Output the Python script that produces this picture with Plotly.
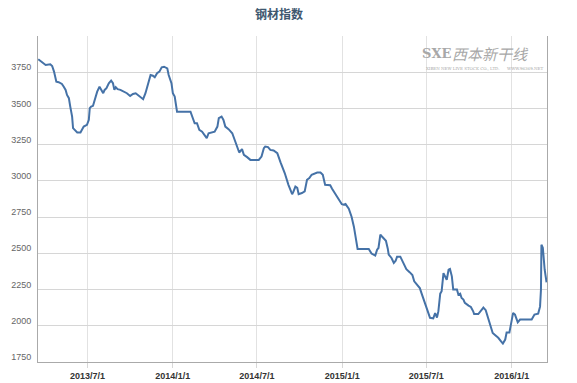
import plotly.graph_objects as go

title_text = "钢材指数"

dates = [
    "2013-03-17", "2013-03-23", "2013-03-29", "2013-04-02", "2013-04-12", "2013-04-16",
    "2013-04-20", "2013-04-22", "2013-04-25", "2013-04-30", "2013-05-07", "2013-05-11",
    "2013-05-15", "2013-05-18", "2013-05-22", "2013-05-25", "2013-05-29", "2013-05-31",
    "2013-06-05", "2013-06-09", "2013-06-16", "2013-06-19", "2013-06-23", "2013-06-30",
    "2013-07-04", "2013-07-06", "2013-07-09", "2013-07-13", "2013-07-18", "2013-07-22",
    "2013-07-27", "2013-07-30", "2013-08-04", "2013-08-07", "2013-08-11", "2013-08-16",
    "2013-08-21", "2013-08-25", "2013-08-28", "2013-08-31", "2013-09-04", "2013-09-10",
    "2013-09-17", "2013-09-24", "2013-10-01", "2013-10-07", "2013-10-13", "2013-10-20",
    "2013-10-29", "2013-11-03", "2013-11-09", "2013-11-14", "2013-11-19", "2013-11-23",
    "2013-11-28", "2013-12-03", "2013-12-08", "2013-12-13", "2013-12-20", "2013-12-23",
    "2013-12-29", "2014-01-01", "2014-01-05", "2014-01-10", "2014-02-08", "2014-02-13",
    "2014-02-17", "2014-02-22", "2014-02-27", "2014-03-05", "2014-03-10", "2014-03-15",
    "2014-03-19", "2014-03-25", "2014-04-01", "2014-04-07", "2014-04-10", "2014-04-16",
    "2014-04-20", "2014-04-24", "2014-05-01", "2014-05-09", "2014-05-14", "2014-05-20",
    "2014-05-24", "2014-05-30", "2014-06-03", "2014-06-10", "2014-06-17", "2014-07-05",
    "2014-07-11", "2014-07-16", "2014-07-19", "2014-07-25", "2014-07-30", "2014-08-06",
    "2014-08-14", "2014-08-21", "2014-08-30", "2014-09-07", "2014-09-15", "2014-09-18",
    "2014-09-22", "2014-09-26", "2014-09-29", "2014-10-06", "2014-10-12", "2014-10-17",
    "2014-10-22", "2014-10-27", "2014-10-31", "2014-11-08", "2014-11-15", "2014-11-20",
    "2014-11-25", "2014-12-06", "2014-12-10", "2014-12-17", "2014-12-24", "2014-12-31",
    "2015-01-04", "2015-01-08", "2015-01-15", "2015-01-21", "2015-01-26", "2015-01-30",
    "2015-02-03", "2015-02-27", "2015-03-05", "2015-03-13", "2015-03-17", "2015-03-20",
    "2015-03-24", "2015-03-27", "2015-04-02", "2015-04-05", "2015-04-09", "2015-04-11",
    "2015-04-17", "2015-04-22", "2015-04-26", "2015-04-29", "2015-05-06", "2015-05-13",
    "2015-05-19", "2015-05-26", "2015-06-01", "2015-06-05", "2015-06-11", "2015-06-17",
    "2015-06-21", "2015-06-25", "2015-07-01", "2015-07-06", "2015-07-09", "2015-07-16",
    "2015-07-20", "2015-07-24", "2015-07-27", "2015-07-31", "2015-08-03", "2015-08-07",
    "2015-08-10", "2015-08-14", "2015-08-18", "2015-08-21", "2015-08-25", "2015-08-28",
    "2015-09-05", "2015-09-08", "2015-09-12", "2015-09-15", "2015-09-19", "2015-09-22",
    "2015-09-30", "2015-10-05", "2015-10-10", "2015-10-12", "2015-10-21", "2015-10-27",
    "2015-11-01", "2015-11-06", "2015-11-10", "2015-11-15", "2015-11-21", "2015-11-26",
    "2015-12-03", "2015-12-09", "2015-12-13", "2015-12-18", "2015-12-21", "2015-12-27",
    "2015-12-31", "2016-01-04", "2016-01-08", "2016-01-14", "2016-01-19", "2016-02-13",
    "2016-02-19", "2016-02-27", "2016-03-02", "2016-03-04", "2016-03-05", "2016-03-08",
    "2016-03-12", "2016-03-16",
]

values = [
    3840, 3823, 3812, 3800, 3805, 3793,
    3754, 3719, 3685, 3681, 3669, 3650,
    3628, 3593, 3571, 3513, 3444, 3364,
    3347, 3334, 3334, 3357, 3375, 3387,
    3421, 3502, 3513, 3518, 3582, 3616,
    3650, 3633, 3605, 3628, 3640, 3674,
    3692, 3674, 3628, 3646, 3633, 3628,
    3616, 3605, 3586, 3600, 3605, 3586,
    3564, 3605, 3674, 3731, 3726, 3715,
    3743, 3754, 3784, 3788, 3777, 3731,
    3674, 3605, 3582, 3478, 3478, 3433,
    3398, 3398, 3352, 3340, 3318, 3295,
    3329, 3334, 3340, 3375, 3433, 3444,
    3421, 3375, 3357, 3329, 3283, 3233,
    3196, 3219, 3180, 3164, 3145, 3145,
    3168, 3226, 3237, 3233, 3214, 3210,
    3192, 3128, 3054, 2973, 2908, 2927,
    2961, 2952, 2908, 2916, 2927, 3008,
    3019, 3042, 3047, 3058, 3058, 3042,
    2973, 2970, 2946, 2908, 2870, 2839,
    2835, 2840, 2808, 2753, 2684, 2594,
    2530, 2530, 2498, 2484, 2525, 2537,
    2629, 2618, 2594, 2587, 2532, 2491,
    2468, 2434, 2449, 2477, 2477, 2434,
    2391, 2370, 2350, 2307, 2281, 2260,
    2222, 2184, 2134, 2088, 2055, 2051,
    2088, 2057, 2101, 2222, 2238, 2363,
    2346, 2318, 2387, 2392, 2341, 2250,
    2250, 2215, 2222, 2192, 2181, 2158,
    2139, 2130, 2100, 2081, 2081, 2103,
    2126, 2108, 2061, 2019, 1950, 1936,
    1917, 1893, 1877, 1905, 1953, 1953,
    2020, 2089, 2077, 2024, 2043, 2043,
    2077, 2084, 2132, 2250, 2560, 2539,
    2387, 2300,
]

y_tickvals = [1750, 2000, 2250, 2500, 2750, 3000, 3250, 3500, 3750, 4000]
y_ticktext = ["1750", "2000", "2250", "2500", "2750", "3000", "3250", "3500", "3750", ""]
x_tickvals = ["2013-07-01", "2014-01-01", "2014-07-01", "2015-01-01", "2015-07-01", "2016-01-01"]
x_ticktext = ["2013/7/1", "2014/1/1", "2014/7/1", "2015/1/1", "2015/7/1", "2016/1/1"]

fig = go.Figure()
fig.add_trace(go.Scatter(
    x=dates, y=values, mode="lines",
    line=dict(color="#4572A7", width=2),
    showlegend=False, hoverinfo="x+y",
))

fig.update_layout(
    width=577, height=383,
    margin=dict(l=38, r=30, t=36, b=21, autoexpand=False),
    paper_bgcolor="white", plot_bgcolor="white",
    title=dict(
        text="<b>" + title_text + "</b>",
        x=279 / 577, xref="container", xanchor="center",
        y=1 - 15 / 383, yref="container", yanchor="middle",
        font=dict(family="Noto Sans CJK SC", size=12, color="#3E576F"),
    ),
    xaxis=dict(
        type="date", automargin=False,
        range=["2013-03-16 12:00", "2016-03-17"],
        tickvals=x_tickvals, ticktext=x_ticktext,
        tickfont=dict(family="Liberation Sans", size=9, color="#333333", weight="bold"),
        showgrid=True, gridcolor="#E2E2E2", gridwidth=1,
        showline=True, linecolor="#AAAAAA", linewidth=1,
        ticks="outside", ticklen=5, tickcolor="#D8D8D8",
        zeroline=False,
    ),
    yaxis=dict(
        range=[1750, 4000], automargin=False,
        tickvals=y_tickvals, ticktext=y_ticktext,
        tickfont=dict(family="Liberation Sans", size=9, color="#666666"),
        ticklabelshift=-5, ticklabelstandoff=4,
        showgrid=True, gridcolor="#D6D6D6", gridwidth=1,
        showline=True, linecolor="#AAAAAA", linewidth=1, mirror=True,
        ticks="", zeroline=False,
    ),
)

# watermark logo text
fig.add_annotation(
    text="<i>西本新干线</i>", xref="paper", yref="paper",
    x=(490 - 38) / 509, y=1 - (53 - 36) / 326, xanchor="center", yanchor="middle",
    showarrow=False, font=dict(family="Noto Sans CJK SC", size=15, color="#A8A8A8"),
)
fig.add_annotation(
    text="<b>SXE</b>", xref="paper", yref="paper",
    x=(436 - 38) / 509, y=1 - (53 - 36) / 326, xanchor="center", yanchor="middle",
    showarrow=False, font=dict(family="DejaVu Serif", size=13, color="#A8A8A8"),
)
fig.add_annotation(
    text="XIBEN NEW LIVE STOCK CO., LTD.      WWW.96369.NET", xref="paper", yref="paper",
    x=(484 - 38) / 509, y=1 - (68 - 36) / 326, xanchor="center", yanchor="middle",
    showarrow=False, font=dict(family="DejaVu Serif", size=4, color="#A8A8A8"),
)

fig.write_html(
    "out.html",
    config={"displayModeBar": False},
    post_script="document.body.style.margin='0';document.body.style.padding='0';document.body.style.overflow='hidden';",
)
